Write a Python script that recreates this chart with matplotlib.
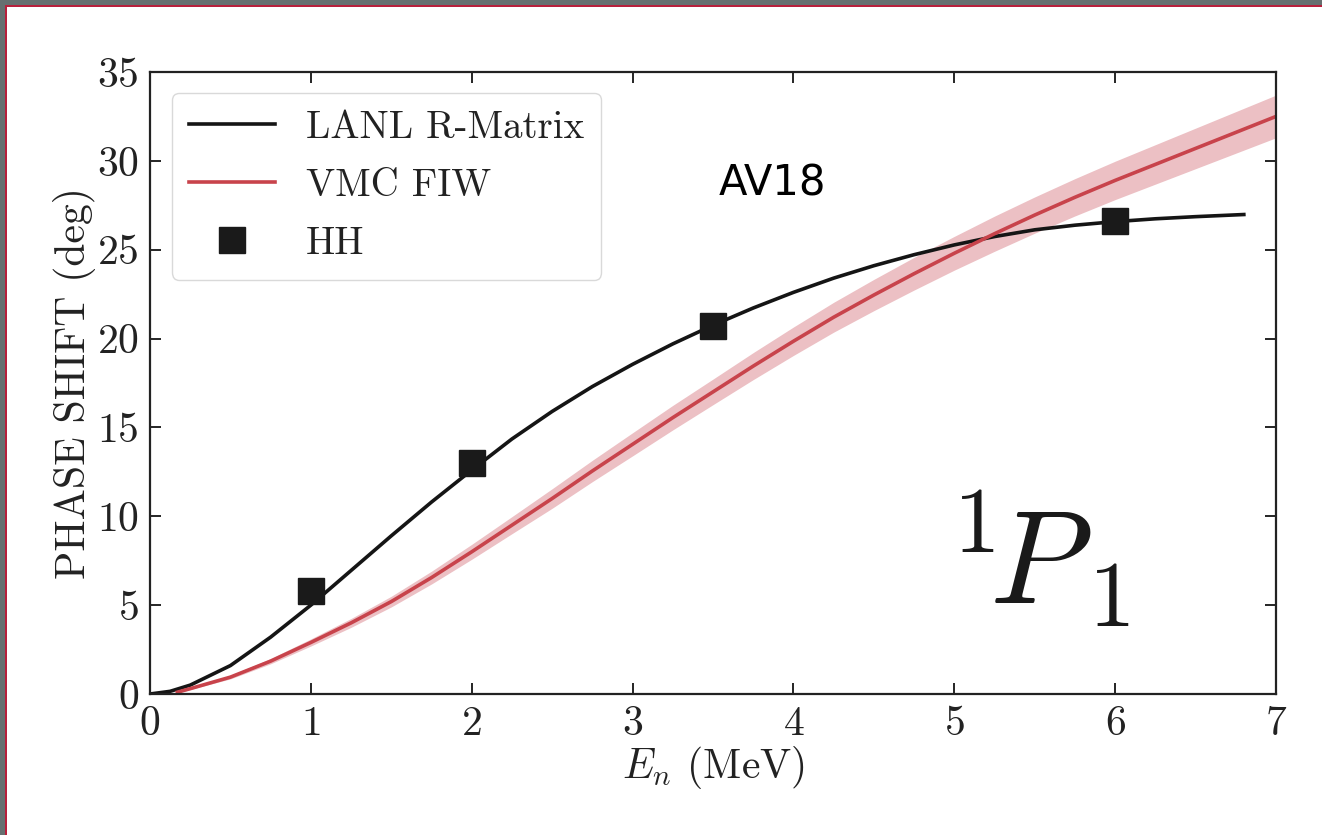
import numpy as np
import matplotlib
matplotlib.use("Agg")
import matplotlib.pyplot as plt
from matplotlib.patches import Rectangle

plt.rcParams['font.family'] = 'serif'
plt.rcParams['font.serif'] = ['cmr10']
plt.rcParams['mathtext.fontset'] = 'cm'
plt.rcParams['axes.unicode_minus'] = False
plt.rcParams['axes.formatter.use_mathtext'] = True

# LANL R-Matrix
e_rmat = [0.0, 0.125, 0.25, 0.5, 0.75, 1.0, 1.25, 1.5, 1.75, 2.0, 2.25, 2.5, 2.75, 3.0,
          3.25, 3.5, 3.75, 4.0, 4.25, 4.5, 4.75, 5.0, 5.25, 5.5, 5.75, 6.0,
          6.25, 6.5, 6.8]
d_rmat = [0.0, 0.15, 0.5, 1.6, 3.2, 5.0, 6.95, 8.9, 10.8, 12.6, 14.35, 15.9, 17.3, 18.55,
          19.7, 20.75, 21.72, 22.6, 23.4, 24.1, 24.72, 25.27, 25.74, 26.12, 26.38, 26.58,
          26.74, 26.86, 26.98]

# VMC FIW central value and band half-width
e_vmc = [0.17, 0.25, 0.5, 0.75, 1.0, 1.25, 1.5, 1.75, 2.0, 2.25, 2.5, 2.75, 3.0,
         3.25, 3.5, 3.75, 4.0, 4.25, 4.5, 4.75, 5.0, 5.25, 5.5, 5.75, 6.0,
         6.25, 6.5, 6.75, 7.0]
d_vmc = [0.1, 0.3, 0.95, 1.85, 2.9, 4.0, 5.2, 6.55, 8.0, 9.5, 11.0, 12.55, 14.05,
         15.55, 17.0, 18.45, 19.85, 21.2, 22.45, 23.65, 24.8, 25.9, 26.95, 27.95, 28.9,
         29.8, 30.7, 31.6, 32.5]
err_vmc = [0.04, 0.05, 0.1, 0.15, 0.2, 0.25, 0.3, 0.36, 0.42, 0.48, 0.55, 0.6, 0.65,
           0.69, 0.72, 0.76, 0.8, 0.84, 0.88, 0.92, 0.95, 0.99, 1.02, 1.05, 1.08,
           1.11, 1.14, 1.17, 1.2]

# HH points
e_hh = [1.0, 2.0, 3.5, 6.0]
d_hh = [5.8, 13.0, 20.7, 26.6]

fig = plt.figure(figsize=(13.22, 8.35), dpi=100)
fig.patch.set_facecolor('#667070')
# white page with red edge, like the screenshot frame
fig.patches.append(Rectangle((5 / 1322, 0), 1, 1 - 5 / 835, transform=fig.transFigure,
                             facecolor='white', edgecolor='none', zorder=-10))
fig.patches.append(Rectangle((5 / 1322, 1 - 7 / 835), 1, 2 / 835, transform=fig.transFigure,
                             facecolor='#b8203c', edgecolor='none', zorder=-9))
fig.patches.append(Rectangle((5 / 1322, 0), 2 / 1322, 1 - 5 / 835, transform=fig.transFigure,
                             facecolor='#b8203c', edgecolor='none', zorder=-9))

ax = fig.add_axes([150 / 1322, 141 / 835, 1126 / 1322, 622 / 835])
ax.set_facecolor('white')

lo = np.array(d_vmc) - np.array(err_vmc)
hi = np.array(d_vmc) + np.array(err_vmc)
ax.fill_between(e_vmc, lo, hi, color='#d0626c', alpha=0.4, linewidth=0)
ax.plot(e_rmat, d_rmat, color='#151515', lw=2.6, label='LANL R-Matrix')
ax.plot(e_vmc, d_vmc, color='#c8434b', lw=2.6, label='VMC FIW')
ax.plot(e_hh, d_hh, 's', color='#1a1a1a', ms=19, label='HH', zorder=5)

ax.set_xlim(0, 7)
ax.set_ylim(0, 35)
ax.set_xticks(range(0, 8))
ax.set_yticks(range(0, 36, 5))
ax.tick_params(direction='in', top=True, right=True, length=8, width=1.2,
               labelsize=30, pad=8, labelcolor='#222222')
for s in ax.spines.values():
    s.set_linewidth(1.6)
    s.set_color('#222222')

ax.set_xlabel(r'$E_n$ (MeV)', fontsize=30, labelpad=1, color='#222222')
ax.set_ylabel('PHASE SHIFT (deg)', fontsize=30, labelpad=1, color='#222222')

leg = ax.legend(loc='upper left', fontsize=28, frameon=True, fancybox=True,
                edgecolor='0.85', framealpha=1, handlelength=2.2,
                borderpad=0.45, labelspacing=0.57, bbox_to_anchor=(0.002, 0.998))
for t in leg.get_texts():
    t.set_color('#222222')

ax.text(0.553, 0.82, 'AV18', transform=ax.transAxes, fontsize=30,
        family='DejaVu Sans', ha='center', va='center')
ax.text(0.79, 0.215, r'${}^{1}\!P_{\,1}$', transform=ax.transAxes, fontsize=96,
        ha='center', va='center', color='#1a1a1a')

fig.savefig('out.png', dpi=100, facecolor=fig.get_facecolor())
